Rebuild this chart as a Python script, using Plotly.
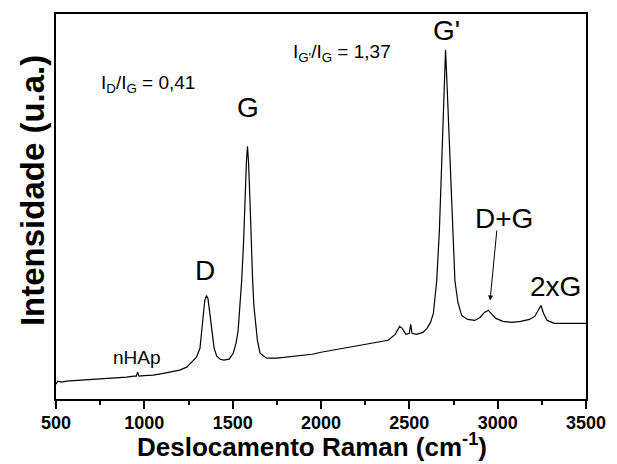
import plotly.graph_objects as go

# Raman shift (cm^-1) and intensity (a.u.)
shift = [500, 510, 530, 560, 600, 650, 700, 750, 800, 850, 900, 940, 955, 962, 970,
         1000, 1050, 1100, 1150, 1200, 1240, 1270, 1295, 1315, 1330, 1342, 1352, 1360,
         1370, 1382, 1395, 1410, 1430, 1450, 1480, 1503, 1520, 1531, 1551, 1562, 1570,
         1578, 1584, 1590, 1598, 1606, 1613, 1620, 1626, 1640, 1655, 1692, 1750, 1800,
         1850, 1900, 1950, 2000, 2100, 2200, 2300, 2380, 2420, 2445, 2460, 2480, 2500,
         2508, 2515, 2540, 2577, 2600, 2620, 2636, 2655, 2670, 2683, 2695, 2705, 2715,
         2730, 2745, 2758, 2775, 2796, 2830, 2870, 2900, 2925, 2947, 2965, 2990, 3030,
         3080, 3130, 3180, 3210, 3230, 3245, 3260, 3280, 3320, 3400, 3500]
intensity = [15, 18, 17, 18, 18.5, 19, 19.5, 20, 21, 21.5, 22, 23, 23, 27, 23,
             23.5, 24, 25.5, 27, 29, 32, 37, 42, 51, 77, 99, 104, 101,
             87, 67, 51, 43, 40, 39, 40, 46, 57, 69, 119, 159, 202,
             239, 254, 237, 199, 149, 119, 94, 82, 59, 46, 41, 41, 42,
             43, 44, 45, 47, 50, 53, 56, 59, 65, 73, 71, 65, 66,
             75, 66, 65, 67, 71, 77, 86, 119, 169, 236, 309, 351, 309,
             236, 169, 119, 97, 84, 80, 79, 82, 87, 89, 86, 81, 78,
             77, 78, 80, 83, 90, 94, 86, 79, 76, 76, 76]

x_ticks = [500, 1000, 1500, 2000, 2500, 3000, 3500]

FONT = "Liberation Sans, Arial"

fig = go.Figure()
fig.add_trace(go.Scatter(x=shift, y=intensity, mode="lines",
                         line=dict(color="black", width=1.2), showlegend=False))

big = dict(family=FONT, size=28, color="black")
mid = dict(family=FONT, size=19, color="black")

ann = [
    dict(x=745, y=317, text="I<sub>D</sub>/I<sub>G</sub> = 0,41", xanchor="left", font=mid),
    dict(x=1830, y=348, text="I<sub>G'</sub>/I<sub>G</sub> = 1,37", xanchor="left", font=mid),
    dict(x=1587, y=293, text="G", font=big),
    dict(x=1343, y=129, text="D", font=big),
    dict(x=2713, y=370, text="G'", font=big),
    dict(x=3036, y=181, text="D+G", font=big),
    dict(x=3325, y=113, text="2xG", font=big),
    dict(x=958, y=42, text="nHAp", font=mid),
]
for a in ann:
    fig.add_annotation(showarrow=False, xref="x", yref="y", **a)

fig.add_annotation(x=2957, y=99, ax=2996, ay=171, axref="x", ayref="y",
                   xref="x", yref="y", text="", showarrow=True,
                   arrowhead=2, arrowsize=1, arrowwidth=1, arrowcolor="black")

# axis titles placed as paper annotations
fig.add_annotation(x=0.483, y=-0.12, xref="paper", yref="paper", showarrow=False,
                   text="<b>Deslocamento Raman (cm<sup>-1</sup>)</b>",
                   xanchor="center", yanchor="middle",
                   font=dict(family=FONT, size=26, color="black"))
fig.add_annotation(x=-0.0453, y=0.5426, xref="paper", yref="paper", showarrow=False,
                   text="<b>Intensidade (u.a.)</b>", textangle=-90,
                   xanchor="center", yanchor="middle",
                   font=dict(family=FONT, size=33, color="black"))

fig.update_layout(
    width=609, height=456,
    margin=dict(l=48, r=31, t=4, b=65),
    plot_bgcolor="white", paper_bgcolor="white",
    font=dict(family=FONT, color="black"),
)
fig.update_xaxes(
    range=[500, 3500], tickvals=x_ticks, ticktext=[str(v) for v in x_ticks],
    ticks="outside", ticklen=8, tickwidth=1.5, tickcolor="black",
    minor=dict(dtick=250, tick0=500, ticks="outside", ticklen=4, tickwidth=1.5, tickcolor="black"),
    tickfont=dict(family=FONT, size=18, color="black", weight="bold"),
    ticklabelstandoff=-2,
    showline=True, linecolor="black", linewidth=2, mirror=True, showgrid=False, zeroline=False,
)
fig.update_yaxes(
    range=[0, 387], showticklabels=False, ticks="",
    showline=True, linecolor="black", linewidth=2, mirror=True, showgrid=False, zeroline=False,
)

fig.write_html("out.html")
